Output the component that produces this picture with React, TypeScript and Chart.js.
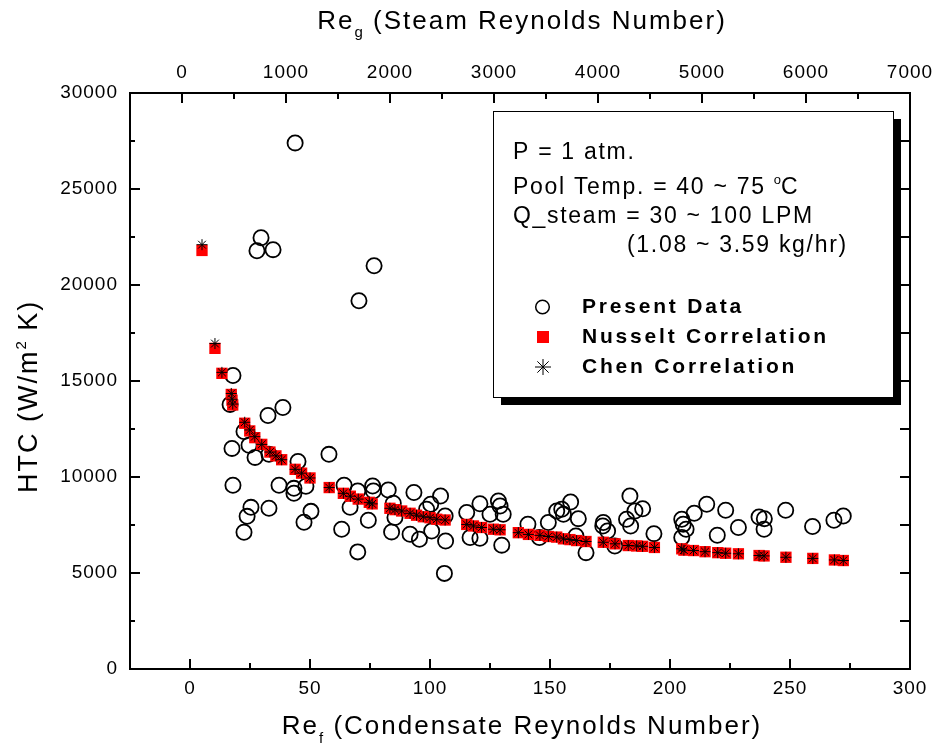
import React, { useEffect, useRef } from "react";
import { Chart, registerables } from "chart.js";
Chart.register(...registerables);

const FONT = "Arial, 'Liberation Sans', Helvetica, sans-serif";

// ---- Data (Re_f = condensate Reynolds number, HTC in W/m2K) ----
const presentRef = [
  16.7, 17.5, 17.9, 17.9, 22.5, 22.5, 23.8, 24.6, 25.4, 27.1, 27.9, 29.6, 32.5, 32.9, 32.9, 34.6,
  37.1, 38.7, 43.3, 43.3, 43.8, 45.0, 47.5, 48.3, 50.4, 57.9, 63.2, 64.2, 66.7, 69.9, 69.9, 70.4,
  74.3, 76.1, 76.4, 76.7, 82.6, 84.0, 84.7, 85.4, 91.7, 93.3, 95.6, 98.6, 100.3, 100.7, 104.4, 106.0,
  106.3, 106.5, 115.3, 116.7, 120.8, 120.8, 125.0, 128.5, 129.2, 129.9, 130.5, 140.8, 145.6, 149.3,
  152.8, 154.9, 155.6, 158.6, 160.8, 161.8, 165.0, 172.0, 172.2, 174.0, 177.0, 181.9, 183.3, 183.6,
  185.4, 188.6, 193.3, 204.9, 204.9, 205.5, 206.7, 210.1, 215.3, 219.7, 223.2, 228.5, 237.1, 239.2,
  239.3, 248.2, 259.4, 268.3, 272.2,
];
const presentHTC = [
  13780, 11490, 15290, 9570, 12370, 7120, 7950, 11650, 8420, 11020, 21780, 22460, 13200, 11180, 8370, 21840,
  9570, 13620, 9410, 9150, 27400, 10810, 7640, 9520, 8210, 11180, 7280, 9570, 8420, 9270, 6100, 19180,
  7750, 9530, 9270, 21000, 9320, 7140, 8630, 7890, 7020, 9190, 6760, 8320, 8580, 7190, 9010, 4980,
  7970, 6670, 8150, 6850, 8610, 6810, 8060, 8750, 8490, 6450, 8060, 7540, 6850, 7630,
  8230, 8320, 8060, 8700, 6930, 7830, 6060, 7450, 7630, 7190, 6410, 7800, 9010, 7450,
  8230, 8350, 7050, 7800, 6850, 7540, 7280, 8110, 8580, 6970, 8270, 7370, 7920, 7280,
  7830, 8270, 7420, 7750, 7970,
];

const corrRef = [
  5.0, 10.4, 13.3, 17.2, 17.5, 17.8, 22.8, 24.9, 27.0, 29.9, 33.3, 35.8, 38.2, 43.8, 46.5, 50.0,
  58.0, 63.9, 66.8, 70.1, 74.7, 75.9, 83.3, 85.4, 88.2, 91.7, 94.4, 97.2, 100.0, 102.8, 106.3,
  115.3, 118.1, 121.5, 126.4, 129.2, 136.8, 141.0, 145.8, 149.3, 152.8, 155.6, 158.3, 161.1, 165.0,
  172.2, 177.1, 182.6, 186.1, 188.6, 193.5, 204.9, 205.8, 209.8, 214.6, 219.9, 223.2, 228.5,
  237.1, 239.2, 248.3, 259.5, 268.5, 272.2,
];
const nusseltHTC = [
  21800, 16700, 15400, 14300, 14000, 13750, 12800, 12400, 12050, 11700, 11300, 11100, 10900, 10400, 10200, 9950,
  9450, 9150, 9000, 8850, 8680, 8600, 8370, 8300, 8230, 8110, 8010, 7930, 7880, 7800, 7760,
  7530, 7450, 7370, 7280, 7250, 7100, 7010, 6960, 6900, 6870, 6780, 6740, 6690, 6640,
  6600, 6520, 6430, 6410, 6390, 6330, 6260, 6190, 6170, 6110, 6060, 6030, 6000,
  5910, 5890, 5820, 5760, 5680, 5650,
];
const chenHTC = [
  22100, 16950, 15450, 14350, 14050, 13800, 12850, 12450, 12100, 11700, 11300, 11100, 10900, 10400, 10200, 9950,
  9450, 9150, 9000, 8850, 8680, 8600, 8370, 8300, 8230, 8110, 8010, 7930, 7880, 7800, 7760,
  7530, 7450, 7370, 7280, 7250, 7100, 7010, 6960, 6900, 6870, 6780, 6740, 6690, 6640,
  6600, 6520, 6430, 6410, 6390, 6330, 6260, 6190, 6170, 6110, 6060, 6030, 6000,
  5910, 5890, 5820, 5760, 5680, 5650,
];

const seriesNames = ["Present Data", "Nusselt Correlation", "Chen Correlation"];

// ---- Ticks ----
const refTicks = [0, 50, 100, 150, 200, 250, 300];
const steamTicks = [0, 1000, 2000, 3000, 4000, 5000, 6000, 7000];
const htcTicks = [0, 5000, 10000, 15000, 20000, 25000, 30000];

// ---- Texts ----
const bottomTitle = ["Re", "f", " (Condensate Reynolds Number)"];
const topTitle = ["Re", "g", " (Steam Reynolds Number)"];
const leftTitle = ["HTC (W/m", "2", " K)"];
const noteLine1 = "P = 1 atm.";
const noteLine2 = ["Pool Temp. = 40 ~ 75 ", "o", "C"];
const noteLine3 = "Q_steam = 30 ~ 100 LPM";
const noteLine4 = "(1.08 ~ 3.59 kg/hr)";

type Part = { text: string; size: number; bold?: boolean; dy?: number; sp?: number };

function setFont(ctx: CanvasRenderingContext2D, p: Part) {
  ctx.font = `${p.bold ? "bold " : ""}${p.size}px ${FONT}`;
  (ctx as any).letterSpacing = `${p.sp ?? 0}px`;
}
function partsWidth(ctx: CanvasRenderingContext2D, parts: Part[]) {
  let w = 0;
  for (const p of parts) {
    setFont(ctx, p);
    w += ctx.measureText(p.text).width;
  }
  return w;
}
function drawParts(ctx: CanvasRenderingContext2D, parts: Part[], x: number, y: number) {
  let cx = x;
  for (const p of parts) {
    setFont(ctx, p);
    ctx.fillText(p.text, cx, y + (p.dy ?? 0));
    cx += ctx.measureText(p.text).width;
  }
}

const decorPlugin = {
  id: "decor",
  beforeDraw(chart: any) {
    (chart.ctx as any).letterSpacing = "1px";
  },
  afterDraw(chart: any) {
    const ctx: CanvasRenderingContext2D = chart.ctx;
    const { x, x2, y } = chart.scales;
    const a = chart.chartArea;
    ctx.save();
    (ctx as any).letterSpacing = "0px";
    ctx.strokeStyle = "#000";
    ctx.lineWidth = 2;
    const seg = (x1: number, y1: number, xx: number, yy: number) => {
      ctx.beginPath();
      ctx.moveTo(x1, y1);
      ctx.lineTo(xx, yy);
      ctx.stroke();
    };
    // bottom ticks (inward)
    for (let v = 0; v <= 300; v += 25) {
      const px = Math.round(x.getPixelForValue(v));
      seg(px, a.bottom, px, a.bottom - (v % 50 === 0 ? 10 : 6));
    }
    // top ticks
    for (let v = 0; v <= 7000; v += 500) {
      const px = Math.round(x2.getPixelForValue(v));
      seg(px, a.top, px, a.top + (v % 1000 === 0 ? 10 : 6));
    }
    // left & right ticks
    for (let v = 2500; v <= 27500; v += 2500) {
      const py = Math.round(y.getPixelForValue(v));
      seg(a.left, py, a.left + (v % 5000 === 0 ? 10 : 5), py);
      seg(a.right, py, a.right - 10, py);
    }

    ctx.fillStyle = "#000";
    ctx.textAlign = "left";
    ctx.textBaseline = "alphabetic";

    // bottom title
    const bParts: Part[] = [
      { text: bottomTitle[0], size: 26, sp: 2 },
      { text: bottomTitle[1], size: 15, sp: 1, dy: 9 },
      { text: bottomTitle[2], size: 26, sp: 2 },
    ];
    const cxm = (a.left + a.right) / 2;
    drawParts(ctx, bParts, cxm - partsWidth(ctx, bParts) / 2 + 2, 734);
    // top title
    const tParts: Part[] = [
      { text: topTitle[0], size: 26, sp: 2 },
      { text: topTitle[1], size: 15, sp: 1, dy: 8 },
      { text: topTitle[2], size: 26, sp: 2 },
    ];
    drawParts(ctx, tParts, cxm - partsWidth(ctx, tParts) / 2 + 2, 29);
    // left title (rotated)
    const lParts: Part[] = [
      { text: leftTitle[0], size: 27, sp: 2 },
      { text: leftTitle[1], size: 15, sp: 1, dy: -11 },
      { text: leftTitle[2], size: 27, sp: 2 },
    ];
    ctx.save();
    ctx.translate(37, 493);
    ctx.rotate(-Math.PI / 2);
    drawParts(ctx, lParts, 0, 0);
    ctx.restore();

    // legend box with shadow
    const bx = 493, by = 111, bw = 400, bh = 286;
    ctx.fillStyle = "#000";
    ctx.fillRect(bx + 8, by + 8, bw, bh);
    ctx.fillStyle = "#fff";
    ctx.fillRect(bx, by, bw, bh);
    ctx.lineWidth = 1;
    ctx.strokeStyle = "#000";
    ctx.strokeRect(bx + 0.5, by + 0.5, bw, bh);

    ctx.fillStyle = "#000";
    drawParts(ctx, [{ text: noteLine1, size: 23, sp: 1.7 }], 513, 159);
    drawParts(
      ctx,
      [
        { text: noteLine2[0], size: 23, sp: 1.7 },
        { text: noteLine2[1], size: 13, sp: 0, dy: -10 },
        { text: noteLine2[2], size: 23, sp: 1.7 },
      ],
      513,
      194
    );
    drawParts(ctx, [{ text: noteLine3, size: 23, sp: 1.7 }], 513, 223);
    drawParts(ctx, [{ text: noteLine4, size: 23, sp: 1.7 }], 627, 252);

    // legend entries
    const names = chart.data.datasets.map((d: any) => d.label);
    const rows = [307, 337, 367];
    ctx.lineWidth = 1.5;
    ctx.strokeStyle = "#000";
    ctx.beginPath();
    ctx.arc(542.5, rows[0], 6.8, 0, Math.PI * 2);
    ctx.stroke();
    ctx.fillStyle = "#ff0000";
    ctx.fillRect(537, rows[1] - 6, 12, 12);
    ctx.lineWidth = 1;
    const sx = 543, sy = rows[2], r = 8, d = r * Math.SQRT1_2;
    seg(sx, sy - r, sx, sy + r);
    seg(sx - r, sy, sx + r, sy);
    seg(sx - d, sy - d, sx + d, sy + d);
    seg(sx - d, sy + d, sx + d, sy - d);

    ctx.fillStyle = "#000";
    names.forEach((n: string, i: number) => {
      drawParts(ctx, [{ text: n, size: 21, bold: true, sp: 2.8 }], 582, rows[i] + 6);
    });
    ctx.restore();
  },
};

export default function App() {
  const ref = useRef<HTMLCanvasElement>(null);
  useEffect(() => {
    document.body.style.margin = "0";
    const tickFont = { family: FONT, size: 19 };
    const border = { display: true, color: "#000", width: 2 };
    const chart = new Chart(ref.current as HTMLCanvasElement, {
      type: "scatter",
      data: {
        datasets: [
          {
            label: seriesNames[0],
            data: presentRef.map((v, i) => ({ x: v, y: presentHTC[i] })),
            pointStyle: "circle",
            pointRadius: 7.6,
            borderColor: "#000",
            backgroundColor: "rgba(0,0,0,0)",
            borderWidth: 1.8,
            order: 3,
          },
          {
            label: seriesNames[1],
            data: corrRef.map((v, i) => ({ x: v, y: nusseltHTC[i] })),
            pointStyle: "rect",
            pointRadius: 8,
            borderWidth: 0,
            backgroundColor: "#ff0000",
            borderColor: "#ff0000",
            order: 2,
          },
          {
            label: seriesNames[2],
            data: corrRef.map((v, i) => ({ x: v, y: chenHTC[i] })),
            pointStyle: "star",
            pointRadius: 5.5,
            borderWidth: 1,
            borderColor: "#000",
            backgroundColor: "#000",
            order: 1,
          },
        ],
      },
      options: {
        responsive: false,
        animation: false,
        events: [],
        layout: { padding: 0 },
        plugins: { legend: { display: false }, tooltip: { enabled: false } },
        scales: {
          x: {
            type: "linear",
            position: "bottom",
            min: -25,
            max: 300,
            afterBuildTicks: (s: any) => {
              s.ticks = refTicks.map((v) => ({ value: v }));
            },
            afterFit: (s: any) => {
              s.height = 84;
              s.paddingLeft = 0;
              s.paddingRight = 0;
            },
            grid: { display: false, drawTicks: false },
            border,
            ticks: { color: "#000", font: tickFont, padding: 8, maxRotation: 0, autoSkip: false, callback: (v: any) => String(v) },
          },
          x2: {
            type: "linear",
            position: "top",
            min: -500,
            max: 7000,
            afterBuildTicks: (s: any) => {
              s.ticks = steamTicks.map((v) => ({ value: v }));
            },
            afterFit: (s: any) => {
              s.height = 93;
              s.paddingLeft = 0;
              s.paddingRight = 0;
            },
            grid: { display: false, drawTicks: false },
            border,
            ticks: { color: "#000", font: tickFont, padding: 9, maxRotation: 0, autoSkip: false, callback: (v: any) => String(v) },
          },
          y: {
            type: "linear",
            position: "left",
            min: 0,
            max: 30000,
            afterBuildTicks: (s: any) => {
              s.ticks = htcTicks.map((v) => ({ value: v }));
            },
            afterFit: (s: any) => {
              s.width = 130;
              s.paddingTop = 0;
              s.paddingBottom = 0;
            },
            grid: { display: false, drawTicks: false },
            border,
            ticks: { color: "#000", font: tickFont, padding: 12, autoSkip: false, callback: (v: any) => String(v) },
          },
          y2: {
            type: "linear",
            position: "right",
            min: 0,
            max: 30000,
            afterFit: (s: any) => {
              s.width = 26;
              s.paddingTop = 0;
              s.paddingBottom = 0;
            },
            grid: { display: false, drawTicks: false },
            border,
            ticks: { display: false },
          },
        },
      } as any,
      plugins: [decorPlugin],
    });
    return () => chart.destroy();
  }, []);
  return (
    <div style={{ width: 936, height: 753 }}>
      <canvas ref={ref} width={936} height={753} style={{ display: "block" }} />
    </div>
  );
}
